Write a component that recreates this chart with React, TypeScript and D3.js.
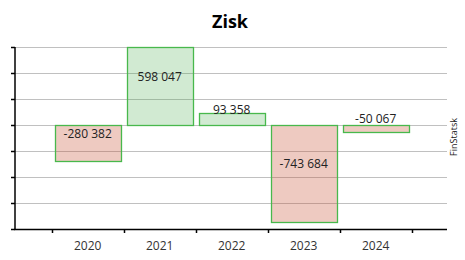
import React from "react";
import * as d3 from "d3";

const categories = ["2020", "2021", "2022", "2023", "2024"];
const values = [-280382, 598047, 93358, -743684, -50067];
const yTicks = [-800000, -600000, -400000, -200000, 0, 200000, 400000, 600000];
const title = "Zisk";
const sourceLabel = "FinStatsk";

const W = 465;
const H = 260;
const FONT = "'Open Sans', 'Noto Sans', sans-serif";

const fmt = (v: number) => {
  const s = Math.abs(v).toString().replace(/\B(?=(\d{3})+(?!\d))/g, " ");
  return (v < 0 ? "-" : "") + s;
};

export default function App() {
  const left = 15;
  const right = 447;
  const top = 47;
  const bottom = 229;

  const y = d3.scaleLinear().domain([-800000, 600000]).range([bottom, top]);
  const x = d3
    .scaleBand<string>()
    .domain(categories)
    .range([51.7, 411.7])
    .paddingInner(1 / 12)
    .paddingOuter(1 / 24);
  const step = x.step();
  const pad = (step - x.bandwidth()) / 2;
  const tickXs = [
    ...categories.map((c) => (x(c) as number) - pad),
    (x(categories[categories.length - 1]) as number) + x.bandwidth() + pad,
  ];

  return (
    <svg width={W} height={H} style={{ position: "absolute", left: 0, top: 0, fontFamily: FONT }}>
      <rect width={W} height={H} fill="#fff" />
      <text x={230} y={28} textAnchor="middle" fontSize={18} fontWeight="bold" fill="#000">
        {title}
      </text>
      {yTicks.slice(1).map((t) => (
        <line key={t} x1={left} x2={right} y1={Math.round(y(t)) + 0.5} y2={Math.round(y(t)) + 0.5} stroke="#c0c0c0" strokeWidth={1} />
      ))}
      {categories.map((c, i) => {
        const v = values[i];
        const y0 = Math.round(y(0));
        const y1 = Math.round(y(v));
        const yTop = Math.min(y0, y1);
        const h = Math.abs(y1 - y0);
        const bx = Math.round(x(c) as number);
        const bw = Math.round(x.bandwidth());
        return (
          <g key={c}>
            <rect
              x={bx}
              y={yTop}
              width={bw}
              height={h}
              fill={v >= 0 ? "rgba(76,175,80,0.26)" : "rgba(200,80,50,0.3)"}
            />
            <rect
              x={bx + 0.5}
              y={yTop + 0.5}
              width={bw}
              height={h}
              fill="none"
              stroke="#48b84c"
              strokeWidth={1.3}
            />
            <text
              x={(x(c) as number) + x.bandwidth() / 2}
              y={yTop + h / 2 - 10}
              textAnchor="middle"
              dominantBaseline="central"
              fontSize={12}
              fill="#222"
            >
              {fmt(v)}
            </text>
          </g>
        );
      })}
      <line x1={left} x2={left} y1={top} y2={bottom + 0.75} stroke="#000" strokeWidth={1.5} />
      {yTicks.map((t) => (
        <line key={"yt" + t} x1={left - 4} x2={left} y1={Math.round(y(t)) + 0.5} y2={Math.round(y(t)) + 0.5} stroke="#000" strokeWidth={1.5} />
      ))}
      <line x1={left - 0.75} x2={right} y1={bottom + 0.5} y2={bottom + 0.5} stroke="#000" strokeWidth={1.5} />
      {tickXs.map((tx, i) => (
        <line key={"xt" + i} x1={Math.round(tx) + 0.5} x2={Math.round(tx) + 0.5} y1={bottom} y2={bottom + 4} stroke="#000" strokeWidth={1.5} />
      ))}
      {categories.map((c) => (
        <text
          key={"xl" + c}
          x={(x(c) as number) + x.bandwidth() / 2}
          y={245}
          textAnchor="middle"
          dominantBaseline="central"
          fontSize={12}
          fill="#333"
        >
          {c}
        </text>
      ))}
      <text
        transform={`translate(453,137) rotate(-90)`}
        textAnchor="middle"
        dominantBaseline="central"
        fontSize={9}
        fill="#222"
      >
        {sourceLabel}
      </text>
    </svg>
  );
}
